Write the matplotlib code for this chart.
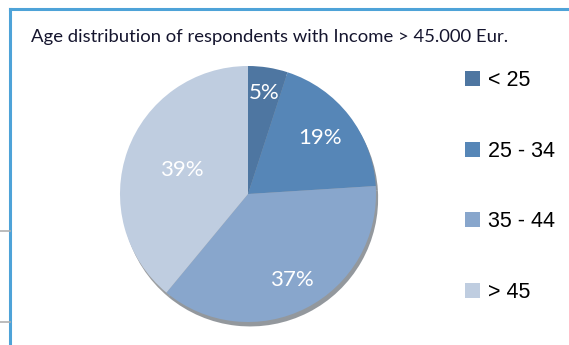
import numpy as np
import matplotlib.pyplot as plt
from matplotlib.lines import Line2D

# data
groups = ["< 25", "25 - 34", "35 - 44", "> 45"]
shares = [5, 19, 37, 39]
colors = ["#4e76a1", "#5686b7", "#88a6cc", "#bfcde0"]
label_dist = [0.80, 0.71, 0.75, 0.55]  # where each % sits in its slice

W, H = 569, 345
fig = plt.figure(figsize=(W / 100, H / 100), dpi=100)

# frame lines like the slide the chart was cut from
fig.add_artist(Line2D([10 / W, 10 / W], [0, 1 - 9 / H], color="#4ea3d8", lw=2.2))
fig.add_artist(Line2D([10 / W, 1], [1 - 9 / H, 1 - 9 / H], color="#4ea3d8", lw=2.2))
for yy in (231, 322):
    fig.add_artist(Line2D([0, 10 / W], [1 - yy / H, 1 - yy / H], color="#b0b0b0", lw=1.2))

fig.text(270 / W, 1 - 37 / H, "Age distribution of respondents with Income > 45.000 Eur.",
         ha="center", va="center", fontsize=13.3, family="Lato", color="#15152e")

cx, cy, r = 248, 194, 128
ax = fig.add_axes([(cx - r) / W, 1 - (cy + r) / H, 2 * r / W, 2 * r / H])
wedges, texts, pcts = ax.pie(shares, colors=colors, startangle=90, counterclock=False,
                             radius=1, autopct="%d%%", pctdistance=0.7,
                             shadow={"ox": 0.012, "oy": -0.025, "shade": 0.7},
                             wedgeprops={"linewidth": 0})
for w, t, d in zip(wedges, pcts, label_dist):
    a = np.deg2rad((w.theta1 + w.theta2) / 2)
    t.set_position((d * np.cos(a), d * np.sin(a)))
    t.set_color("white")
    t.set_fontsize(16)
    t.set_family("Lato")
ax.set_xlim(-1, 1)
ax.set_ylim(-1, 1)
ax.set_aspect("equal")
ax.axis("off")

leg = fig.legend(wedges, groups, loc="upper left", bbox_to_anchor=(450 / W, 1 - 55 / H),
                 frameon=False, prop={"family": "Liberation Sans", "size": 15.5},
                 handlelength=0.7, handleheight=0.7, handletextpad=0.35, labelspacing=2.3,
                 borderpad=0.2)

fig.savefig("out.png", dpi=100)
